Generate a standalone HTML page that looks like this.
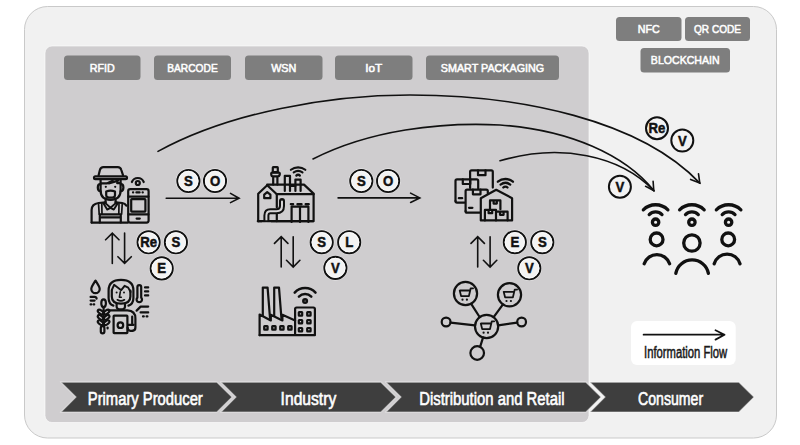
<!DOCTYPE html>
<html><head><meta charset="utf-8">
<style>
html,body{margin:0;padding:0;background:#fff;width:800px;height:445px;overflow:hidden}
svg{display:block}
.pt{font-family:"Liberation Sans",sans-serif;font-weight:normal;font-size:11.8px;fill:#fff;stroke:#fff;stroke-width:0.55}
.ct{font-family:"Liberation Sans",sans-serif;font-size:18px;fill:#fff;stroke:#fff;stroke-width:0.6}
.ic{fill:none;stroke:#111;stroke-width:2.2;stroke-linecap:round;stroke-linejoin:round}
.cl{font-family:"Liberation Sans",sans-serif;font-weight:bold;font-size:15px;fill:#111;stroke:#111;stroke-width:0.5}
</style></head>
<body>
<svg width="800" height="445" viewBox="0 0 800 445">

<rect x="24.5" y="6.5" width="752" height="431.5" rx="23" fill="#f1f1f1" stroke="#c9c9c9" stroke-width="1"/>
<rect x="45" y="46" width="544" height="376.5" rx="7" fill="#cfcdcf" stroke="rgba(255,255,255,0.6)" stroke-width="1"/>
<g fill="#7e7e7e">
<rect x="64" y="55.5" width="76.5" height="24.5" rx="3.5"/>
<rect x="154" y="55.5" width="77" height="24.5" rx="3.5"/>
<rect x="245" y="55.5" width="77.5" height="24.5" rx="3.5"/>
<rect x="335" y="55.5" width="77.5" height="24.5" rx="3.5"/>
<rect x="426" y="55.5" width="133" height="24.5" rx="3.5"/>
<rect x="616" y="17" width="65.5" height="24" rx="3.5"/>
<rect x="685" y="17" width="65" height="24" rx="3.5"/>
<rect x="640.5" y="48" width="89.5" height="24.5" rx="3.5"/>
</g><g class="pt" text-anchor="middle">
<text x="102.25" y="72.3" textLength="25" lengthAdjust="spacingAndGlyphs">RFID</text>
<text x="192.5" y="72.3" textLength="50.5" lengthAdjust="spacingAndGlyphs">BARCODE</text>
<text x="283.75" y="72.3" textLength="25.2" lengthAdjust="spacingAndGlyphs">WSN</text>
<text x="373.75" y="72.3">IoT</text>
<text x="492.5" y="72.3" textLength="103.5" lengthAdjust="spacingAndGlyphs">SMART PACKAGING</text>
<text x="648.75" y="33.0" textLength="22" lengthAdjust="spacingAndGlyphs">NFC</text>
<text x="717.5" y="33.0" textLength="47" lengthAdjust="spacingAndGlyphs">QR CODE</text>
<text x="685.25" y="64.2" textLength="68.8" lengthAdjust="spacingAndGlyphs">BLOCKCHAIN</text>
</g>
<g fill="#3e3e3e" stroke="rgba(255,255,255,0.5)" stroke-width="1.2" stroke-linejoin="miter">
<polygon points="61,382.2 217,382.2 232,397.1 217,412 61,412 76,397.1"/>
<polygon points="221,382.2 381,382.2 396,397.1 381,412 221,412 236,397.1"/>
<polygon points="386,382.2 586,382.2 601,397.1 586,412 386,412 401,397.1"/>
<polygon points="590,382.2 739,382.2 754,397.1 739,412 590,412 605,397.1"/>
</g>
<g class="ct">
<text x="87.8" y="404.6" textLength="115" lengthAdjust="spacingAndGlyphs">Primary Producer</text>
<text x="280.6" y="405" textLength="55.6" lengthAdjust="spacingAndGlyphs">Industry</text>
<text x="419.2" y="405" textLength="145.4" lengthAdjust="spacingAndGlyphs">Distribution and Retail</text>
<text x="638.1" y="405" textLength="65" lengthAdjust="spacingAndGlyphs">Consumer</text>
</g>
<rect x="631" y="321" width="104.7" height="44" rx="6" fill="#fff"/>
<path class="ic" style="stroke-width:1.8" d="M643.6 334.7H724.5M715.5 330.3L724.5 334.7L715.5 339.6"/>
<text x="644" y="358" textLength="83.2" lengthAdjust="spacingAndGlyphs" style="font-family:'Liberation Sans',sans-serif;font-size:16px;fill:#1a1a1a;stroke:#1a1a1a;stroke-width:0.55">Information Flow</text>
<g fill="none" stroke="#111" stroke-width="1.6" stroke-linecap="round">
<path d="M158 151.4C230 112 330 95 410 95C520 95 640 120 699.8 183.1"/>
<path d="M690.6 179.4L699.8 183.1L698.5 173.8"/>
<path d="M313 159C370 130 440 122 500 125C570 130 625 155 653.8 190.6"/>
<path d="M500 160.8C560 143 620 155 653.8 190.6"/>
<path d="M645.6 186.3L653.8 190.6L653.1 181.3"/>
<path d="M166.2 198.3H239.1M230.5 193.4L239.1 198.3L230.5 202.6"/>
<path d="M338.1 197.9H419.8M410.6 193.1L419.8 197.9L410.6 202.5"/>
<path d="M112.3 263.4V233.1M105.6 239.79999999999998L112.3 233.1L119.0 239.79999999999998"/>
<path d="M124.6 233.1V263.4M117.89999999999999 256.7L124.6 263.4L131.29999999999998 256.7"/>
<path d="M281.2 267V236.7M274.5 243.39999999999998L281.2 236.7L287.9 243.39999999999998"/>
<path d="M293.2 236.7V267M286.5 260.3L293.2 267L299.9 260.3"/>
<path d="M477.7 267V236.7M471.0 243.39999999999998L477.7 236.7L484.4 243.39999999999998"/>
<path d="M490.1 236.7V267M483.40000000000003 260.3L490.1 267L496.8 260.3"/>
</g>
<circle cx="188.4" cy="181" r="12.3" fill="none" stroke="rgba(255,255,255,0.5)" stroke-width="1"/>
<circle cx="188.4" cy="181" r="11.1" fill="#f3f3f3" stroke="#111" stroke-width="1.9"/>
<circle cx="188.4" cy="181" r="9.6" fill="none" stroke="#fbfbfb" stroke-width="1"/>
<circle cx="215" cy="181" r="12.3" fill="none" stroke="rgba(255,255,255,0.5)" stroke-width="1"/>
<circle cx="215" cy="181" r="11.1" fill="#f3f3f3" stroke="#111" stroke-width="1.9"/>
<circle cx="215" cy="181" r="9.6" fill="none" stroke="#fbfbfb" stroke-width="1"/>
<circle cx="361.3" cy="181" r="12.3" fill="none" stroke="rgba(255,255,255,0.5)" stroke-width="1"/>
<circle cx="361.3" cy="181" r="11.1" fill="#f3f3f3" stroke="#111" stroke-width="1.9"/>
<circle cx="361.3" cy="181" r="9.6" fill="none" stroke="#fbfbfb" stroke-width="1"/>
<circle cx="388.1" cy="181" r="12.3" fill="none" stroke="rgba(255,255,255,0.5)" stroke-width="1"/>
<circle cx="388.1" cy="181" r="11.1" fill="#f3f3f3" stroke="#111" stroke-width="1.9"/>
<circle cx="388.1" cy="181" r="9.6" fill="none" stroke="#fbfbfb" stroke-width="1"/>
<circle cx="148.6" cy="242.3" r="12.3" fill="none" stroke="rgba(255,255,255,0.5)" stroke-width="1"/>
<circle cx="148.6" cy="242.3" r="11.1" fill="#f3f3f3" stroke="#111" stroke-width="1.9"/>
<circle cx="148.6" cy="242.3" r="9.6" fill="none" stroke="#fbfbfb" stroke-width="1"/>
<circle cx="175.9" cy="242.3" r="12.3" fill="none" stroke="rgba(255,255,255,0.5)" stroke-width="1"/>
<circle cx="175.9" cy="242.3" r="11.1" fill="#f3f3f3" stroke="#111" stroke-width="1.9"/>
<circle cx="175.9" cy="242.3" r="9.6" fill="none" stroke="#fbfbfb" stroke-width="1"/>
<circle cx="161.7" cy="268.4" r="12.3" fill="none" stroke="rgba(255,255,255,0.5)" stroke-width="1"/>
<circle cx="161.7" cy="268.4" r="11.1" fill="#f3f3f3" stroke="#111" stroke-width="1.9"/>
<circle cx="161.7" cy="268.4" r="9.6" fill="none" stroke="#fbfbfb" stroke-width="1"/>
<circle cx="321.7" cy="242.2" r="12.3" fill="none" stroke="rgba(255,255,255,0.5)" stroke-width="1"/>
<circle cx="321.7" cy="242.2" r="11.1" fill="#f3f3f3" stroke="#111" stroke-width="1.9"/>
<circle cx="321.7" cy="242.2" r="9.6" fill="none" stroke="#fbfbfb" stroke-width="1"/>
<circle cx="349.2" cy="242.2" r="12.3" fill="none" stroke="rgba(255,255,255,0.5)" stroke-width="1"/>
<circle cx="349.2" cy="242.2" r="11.1" fill="#f3f3f3" stroke="#111" stroke-width="1.9"/>
<circle cx="349.2" cy="242.2" r="9.6" fill="none" stroke="#fbfbfb" stroke-width="1"/>
<circle cx="335.4" cy="267.9" r="12.3" fill="none" stroke="rgba(255,255,255,0.5)" stroke-width="1"/>
<circle cx="335.4" cy="267.9" r="11.1" fill="#f3f3f3" stroke="#111" stroke-width="1.9"/>
<circle cx="335.4" cy="267.9" r="9.6" fill="none" stroke="#fbfbfb" stroke-width="1"/>
<circle cx="514.8" cy="242.2" r="12.3" fill="none" stroke="rgba(255,255,255,0.5)" stroke-width="1"/>
<circle cx="514.8" cy="242.2" r="11.1" fill="#f3f3f3" stroke="#111" stroke-width="1.9"/>
<circle cx="514.8" cy="242.2" r="9.6" fill="none" stroke="#fbfbfb" stroke-width="1"/>
<circle cx="542.3" cy="242.2" r="12.3" fill="none" stroke="rgba(255,255,255,0.5)" stroke-width="1"/>
<circle cx="542.3" cy="242.2" r="11.1" fill="#f3f3f3" stroke="#111" stroke-width="1.9"/>
<circle cx="542.3" cy="242.2" r="9.6" fill="none" stroke="#fbfbfb" stroke-width="1"/>
<circle cx="529.3" cy="268.3" r="12.3" fill="none" stroke="rgba(255,255,255,0.5)" stroke-width="1"/>
<circle cx="529.3" cy="268.3" r="11.1" fill="#f3f3f3" stroke="#111" stroke-width="1.9"/>
<circle cx="529.3" cy="268.3" r="9.6" fill="none" stroke="#fbfbfb" stroke-width="1"/>
<circle cx="657" cy="128.3" r="11" fill="#f3f3f3" stroke="#111" stroke-width="2"/>
<circle cx="682.3" cy="140.6" r="11" fill="#f3f3f3" stroke="#111" stroke-width="2"/>
<circle cx="619.9" cy="186.7" r="11" fill="#f3f3f3" stroke="#111" stroke-width="2"/>
<text class="cl" transform="translate(188.4 185.9) scale(0.88 1)" text-anchor="middle">S</text>
<text class="cl" transform="translate(215 185.9) scale(0.88 1)" text-anchor="middle">O</text>
<text class="cl" transform="translate(361.3 185.9) scale(0.88 1)" text-anchor="middle">S</text>
<text class="cl" transform="translate(388.1 185.9) scale(0.88 1)" text-anchor="middle">O</text>
<text class="cl" transform="translate(148.6 247.2) scale(0.88 1)" text-anchor="middle">Re</text>
<text class="cl" transform="translate(175.9 247.2) scale(0.88 1)" text-anchor="middle">S</text>
<text class="cl" transform="translate(161.7 273.3) scale(0.88 1)" text-anchor="middle">E</text>
<text class="cl" transform="translate(321.7 247.1) scale(0.88 1)" text-anchor="middle">S</text>
<text class="cl" transform="translate(349.2 247.1) scale(0.88 1)" text-anchor="middle">L</text>
<text class="cl" transform="translate(335.4 272.8) scale(0.88 1)" text-anchor="middle">V</text>
<text class="cl" transform="translate(514.8 247.1) scale(0.88 1)" text-anchor="middle">E</text>
<text class="cl" transform="translate(542.3 247.1) scale(0.88 1)" text-anchor="middle">S</text>
<text class="cl" transform="translate(529.3 273.2) scale(0.88 1)" text-anchor="middle">V</text>
<text class="cl" transform="translate(657 133.2) scale(0.88 1)" text-anchor="middle">Re</text>
<text class="cl" transform="translate(682.3 145.5) scale(0.88 1)" text-anchor="middle">V</text>
<text class="cl" transform="translate(619.9 191.6) scale(0.88 1)" text-anchor="middle">V</text>
<!-- farmer -->
<g class="ic">
<path d="M98.6 175.2L99.9 170Q100.7 167.2 103.4 167.2H117.8Q120.5 167.2 121.3 170L123 175.2"/>
<rect x="94" y="176.3" width="33" height="2.8" rx="1.4"/>
<path d="M100.6 180V190.5Q100.6 199.5 110.6 199.8Q120.6 199.5 120.6 190.5V180"/>
<path d="M100.3 184.2Q97.8 184.2 97.8 187.4Q97.8 190.8 100.6 191.2M120.9 184.2Q123.4 184.2 123.4 187.4Q123.4 190.8 120.6 191.2"/>
<path d="M100.8 183.4H106.8L112.6 180.8M108.8 183.4L118.2 180.6M117.2 183.2H120.4"/>
<path d="M106.2 191.6Q110.6 189.6 115 191.6V195.2Q115 197.6 110.6 197.6Q106.2 197.6 106.2 195.2Z"/>
<path d="M105.6 198.6V202.4M115.6 198.6V202.4"/>
<path style="stroke-width:1.9" d="M104.6 202.4L110.5 207.8L116.6 202.4M103.4 203.2L107.2 209.6L110.5 207.8L113.8 209.6L117.8 203.2"/>
<path d="M91.6 222.6V210Q91.6 204 98.6 203L105.6 202.4M115.6 202.4L122.2 203Q125 203.4 126.4 205.6"/>
<path style="stroke-width:1.7" d="M98.6 204.6L99.2 214.2M101.8 203.8L102 214.2M119 203.8L118.8 214.2M122.2 204.4L121.6 214.2"/>
<path d="M99.6 214.4H121M99.8 214.4V222.4M120.8 214.4V222.4M101.6 217.4H119.4"/>
<path d="M91.6 222.6H128"/>
<rect x="128.2" y="189.2" width="20.4" height="33.4" rx="2"/>
<path d="M128.4 196.6H148.4M128.4 214.4H148.4M133 192.4H133.2M136.4 192.4H139.6M142.6 192.4H142.8M136.6 218.6H139.8"/>
<rect x="131.2" y="199.2" width="14.2" height="12.4" rx="0.5"/>
<circle cx="137.8" cy="183" r="2"/>
<path d="M131.87 182.00A6.4 6.4 0 0 1 143.73 182.00"/>
</g>
<circle cx="105.8" cy="186.8" r="1.1" fill="#111"/><circle cx="115.2" cy="186.8" r="1.1" fill="#111"/>
<!-- industry -->
<g class="ic">
<path d="M258.2 221.2V193.8L267.2 185.2L276.8 194.2V207.2M276.8 213.6V221.2"/>
<path d="M257.8 221.2H313.6V193.6L304 184.6H267.2"/>
<path d="M276.8 194.2H313.6"/>
<path d="M264.2 198.2V194.6L267.2 192.2L270.4 194.6V198.2Z"/>
<path d="M273.2 184.6V176.4M277.4 184.6V176.4M271.4 175.2Q270.8 172.6 272 172.6H279Q280.2 172.6 279.6 175.2Q279.2 176.4 278 176.4H272.6Q271.6 176.4 271.4 175.2Z"/>
<rect x="272.8" y="167.2" width="5" height="5" rx="0.5"/>
<path d="M284.8 191V175.8H290V191"/>
<path d="M295.4 191V179.6H300.6V191"/>
<path d="M290 186H295.4"/>
<path d="M291.6 222V206.6H308.4V222M300 206.6V222M290.8 204.2H293.2M297.4 204.2H301.6M305.6 204.2H308.8"/>
</g>
<path d="M282 201V206Q282 211.2 276.4 211.2H270.4Q266.4 211.2 266.4 215.6V221" fill="none" stroke="#111" stroke-width="6" stroke-linecap="round"/><rect x="262" y="221.2" width="9" height="4" fill="#cfcdcf"/>
<path d="M282 201.6V206Q282 211.2 276.4 211.2H270.4Q266.4 211.2 266.4 215.6V222.4" fill="none" stroke="#d8d6d8" stroke-width="2" stroke-linecap="round"/>
<path d="M257.8 221.2H313.6" fill="none" stroke="#111" stroke-width="2"/>
<g class="ic" style="stroke-width:2.2">
<path d="M290.90 169.75A11.8 11.8 0 0 1 305.30 169.75"/>
<path d="M293.74 172.43A7.8 7.8 0 0 1 302.46 172.43"/>
<path d="M296.41 175.49A2.2 2.2 0 0 1 299.79 175.49" style="stroke-width:2.4"/>
</g>
<!-- distribution -->
<g class="ic">
<path d="M470.1 188V171.8Q470.1 170.3 471.6 170.3H491.3Q492.8 170.3 492.8 171.8V187.6"/>
<path d="M478 170.3V175.2H485.5V170.3"/>
<path d="M455.5 201.1V180.8Q455.5 179.3 457 179.3H476.7Q478.2 179.3 478.2 180.8V188.6"/>
<path d="M455.5 201.1Q455.5 202.6 457 202.6H464.6"/>
<path d="M462.8 179.3V184H470.3V179.3"/>
<path d="M458.8 198.2H462.2"/>
<path d="M465.6 211.2V191.1Q465.6 189.6 467.1 189.6H486.3Q487.8 189.6 487.8 191.1V193.2"/>
<path d="M465.6 211.2Q465.6 212.7 467.1 212.7H480"/>
<path d="M472.9 189.6V194.3H480.5V189.6"/>
<path d="M469 207.8H472.4"/>
<path d="M480.8 220.4V198.2L496.2 189.8L512.1 198.2V220.4H480.8Z"/>
<path d="M490 209.2V200.4H500.4V209.2M493.6 200.4V203.6H496.8V200.4"/>
<path d="M484.9 220.4V209.9H496V220.4M488.6 209.9V213.2H492.2V209.9"/>
<path d="M496 211.7H507.6V220.4M500 211.7V214.8H503.6V211.7"/>
</g>
<g class="ic" style="stroke-width:2.3">
<path d="M497.88 181.71A11.8 11.8 0 0 1 512.92 181.71"/>
<path d="M500.55 184.55A8.15 8.15 0 0 1 510.25 184.55"/>
<path d="M503.28 187.48A3 3 0 0 1 507.52 187.48"/>
</g>
<!-- consumers -->
<g class="ic" style="stroke-width:3.3">
<path d="M643.3 209.8A17.5 17.5 0 0 1 667.9 209.8"/>
<path d="M649.2 214.6A9 9 0 0 1 662 214.6"/>
<circle cx="655.6" cy="222.2" r="3.2"/>
<circle cx="656.6" cy="239.4" r="6.4"/>
<path d="M644.2 263.8A13.4 13.4 0 0 1 669.6 263.8"/>
<path d="M679.6 209.8A17.5 17.5 0 0 1 704.2 209.8"/>
<path d="M685.5 214.6A9 9 0 0 1 698.3 214.6"/>
<circle cx="691.9" cy="222.2" r="3.2"/>
<circle cx="691.9" cy="243" r="8.2"/>
<path d="M675.8 273.4A16.6 16.6 0 0 1 708.4 273.4"/>
<path d="M716.3 209.8A17.5 17.5 0 0 1 740.9 209.8"/>
<path d="M722.2 214.6A9 9 0 0 1 735 214.6"/>
<circle cx="728.6" cy="222.2" r="3.2"/>
<circle cx="728.2" cy="239.4" r="6.4"/>
<path d="M714.2 263.8A13.4 13.4 0 0 1 740 263.8"/>
</g>
<!-- woman -->
<g class="ic">
<path d="M95.5 280.6C93.4 284 91.3 286.6 91.3 289A4.2 4.2 0 0 0 99.7 289C99.7 286.6 97.6 284 95.5 280.6Z"/>
<path d="M90.6 296.9H94.6Q96.4 296.9 96.6 298.6M90.6 300.6H94.6M90.6 304.4H91.2M93.6 304.4H94.2"/>
<path d="M113.4 305.6Q108.6 304 108.6 298V290.4Q108.6 279.8 121 279.8Q133.4 279.8 133.4 290.4V298Q133.4 304 128.4 305.6"/>
<path d="M111.8 290.6V296.4Q111.8 303.6 120.9 303.6Q130.4 303.6 130.4 296.4V290.6"/>
<path style="stroke-width:1.9" d="M111.8 290L114.1 284.8L121.2 290.2L124.6 285.8L128.2 287.6L130.6 292"/>
<circle cx="116.6" cy="292.4" r="1" fill="#111" stroke="none"/><circle cx="124" cy="292.4" r="1" fill="#111" stroke="none"/>
<path style="stroke-width:1.6" d="M120.3 291.8L119.4 297.2H121.3"/>
<path style="stroke-width:1.7" d="M117.4 299.8Q120.9 302 124.4 299.8"/>
<path d="M116.6 303.4V306.4Q116.6 309.4 120.9 309.4Q125 309.4 125 306.4V303.4"/>
<path d="M108.6 310.4H127.4Q135.4 310.8 135.4 318.4V327.6Q135.4 330.8 132.4 330.8"/>
<rect x="113.6" y="315.6" width="13.8" height="17.6" rx="0.6"/>
<circle cx="120.4" cy="325.2" r="2.8"/>
<path d="M132.2 316.6V324.6M128.2 324.8H133.6M127.6 327.6Q127.6 330.8 130.4 330.8H132.4"/>
<path d="M137.4 297.6V287Q137.4 285.2 139.3 285.2Q141.2 285.2 141.2 287V297.6A2.7 2.7 0 1 1 137.4 297.6Z"/>
<path d="M145 287.4H148.2M145 291.4H148.2M145 295.4H148.2"/>
<path d="M136.6 310.6L140.6 306.6H148.2M140.6 312.4H148.2M143 316.4H143.8M146.6 316.4H147.4"/>
<ellipse cx="103.6" cy="303.2" rx="2.3" ry="3.9"/>
<ellipse cx="100.6" cy="312" rx="3.2" ry="1.7" transform="rotate(35 100.6 312)"/>
<ellipse cx="106.6" cy="312" rx="3.2" ry="1.7" transform="rotate(-35 106.6 312)"/>
<ellipse cx="100.6" cy="317.4" rx="3.2" ry="1.7" transform="rotate(35 100.6 317.4)"/>
<ellipse cx="106.6" cy="317.4" rx="3.2" ry="1.7" transform="rotate(-35 106.6 317.4)"/>
<ellipse cx="100.6" cy="322.7" rx="3.2" ry="1.7" transform="rotate(35 100.6 322.7)"/>
<ellipse cx="106.6" cy="322.7" rx="3.2" ry="1.7" transform="rotate(-35 106.6 322.7)"/>
<path d="M103.6 307.4V326"/>
<rect x="100.8" y="326.2" width="3.6" height="7.2" rx="1.8"/>
<path d="M107.6 327.6V328.4"/>
</g>
<!-- factory -->
<g class="ic">
<path d="M259.6 335.2V314.6L270.8 320.4V314.8L282.4 320.4V314.8L295.1 320.6"/>
<path d="M259.6 335.2H314.9V309Q314.9 307.5 313.4 307.5H296.6Q295.1 307.5 295.1 309V335.2"/>
<path d="M262.8 315.8V287.6H267.6L270 317.8"/>
<path d="M274.2 315.8V287.6H279L281.4 317.8"/>
<rect x="264.2" y="326.2" width="3.4" height="3.4" rx="0.4"/>
<rect x="272.2" y="326.2" width="3.4" height="3.4" rx="0.4"/>
<rect x="280.2" y="326.2" width="3.4" height="3.4" rx="0.4"/>
<rect x="288.2" y="326.2" width="3.4" height="3.4" rx="0.4"/>
<rect x="298.8" y="312.2" width="3.4" height="3.4" rx="0.4"/>
<rect x="307.2" y="312.2" width="3.4" height="3.4" rx="0.4"/>
<rect x="298.8" y="320" width="3.4" height="3.4" rx="0.4"/>
<rect x="307.2" y="320" width="3.4" height="3.4" rx="0.4"/>
<rect x="298.8" y="328" width="3.4" height="3.4" rx="0.4"/>
<rect x="307.2" y="328" width="3.4" height="3.4" rx="0.4"/>
</g>
<g class="ic" style="stroke-width:2.5">
<path d="M294.70 292.63A14 14 0 0 1 315.50 292.63"/>
<path d="M298.91 296.63A8.6 8.6 0 0 1 311.29 296.63"/>
<circle cx="305.1" cy="301" r="1.8"/>
</g>
<!-- network -->
<g class="ic">
<circle cx="465.5" cy="293.5" r="11.6"/>
<circle cx="509.5" cy="294.8" r="11.6"/>
<circle cx="486.6" cy="326.5" r="11.6"/>
<circle cx="446.1" cy="322" r="4.4"/>
<circle cx="521.6" cy="322" r="4.4"/>
<circle cx="477.2" cy="353" r="6.8"/>
<path d="M471.2 303.8L479.6 317M502.8 304.6L494 316.6M450.6 322.6L475 325.4M498.2 325.4L517.2 322.6M483 337.6L480.2 346.6"/>
</g>

<path class="ic" style="stroke-width:1.8" d="M473.1 288.3H470.7L468.9 296.1H461.1L459.7 290.5H469.9"/>
<circle cx="462.5" cy="299.7" r="1.1" fill="#111"/><circle cx="466.9" cy="299.7" r="1.1" fill="#111"/>
<path class="ic" style="stroke-width:1.8" d="M517.1 289.6H514.7L512.9 297.4H505.1L503.7 291.8H513.9"/>
<circle cx="506.5" cy="301.0" r="1.1" fill="#111"/><circle cx="510.9" cy="301.0" r="1.1" fill="#111"/>
<path class="ic" style="stroke-width:1.8" d="M494.2 321.3H491.8L490.0 329.1H482.2L480.8 323.5H491.0"/>
<circle cx="483.6" cy="332.7" r="1.1" fill="#111"/><circle cx="488.0" cy="332.7" r="1.1" fill="#111"/>
</svg>
</body></html>
